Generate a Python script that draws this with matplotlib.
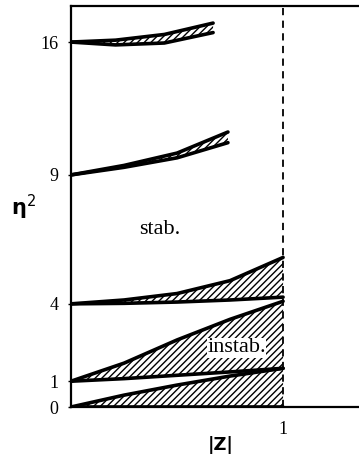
import numpy as np
import matplotlib
matplotlib.use("Agg")
import matplotlib.pyplot as plt

# band readings: |Z| positions and eta^2 edges (lower / upper)
x_low = [0.0, 0.25, 0.5, 0.75, 1.0]
band0_lo = [0.0, 0.0, 0.0, 0.0, 0.0]
band0_hi = [0.0, 0.46, 0.85, 1.2, 1.5]
band1_lo = [1.0, 1.1, 1.23, 1.36, 1.5]
band1_hi = [1.0, 1.7, 2.6, 3.4, 4.1]
band4_lo = [4.0, 4.02, 4.07, 4.15, 4.26]
band4_hi = [4.0, 4.15, 4.4, 4.9, 5.8]

x_9 = [0.0, 0.25, 0.5, 0.74]
band9_lo = [9.0, 9.4, 9.9, 10.7]
band9_hi = [9.0, 9.5, 10.15, 11.26]

x_16 = [0.0, 0.21, 0.44, 0.67]
band16_lo = [16.0, 15.85, 15.95, 16.5]
band16_hi = [16.0, 16.1, 16.4, 17.0]

yticks = [0, 1, 4, 9, 16]
xticks = [1]

plt.rcParams['font.family'] = ['Liberation Serif', 'DejaVu Sans']
plt.rcParams['hatch.linewidth'] = 1.0

# axis is squeezed above 9
k = 0.736
def fwd(y):
    y = np.asarray(y, dtype=float)
    return np.where(y <= 9, y, 9 + (y - 9) * k)
def inv(y):
    y = np.asarray(y, dtype=float)
    return np.where(y <= 9, y, 9 + (y - 9) / k)

fig = plt.figure(figsize=(3.59, 4.63), dpi=100)
ax = fig.add_axes([71 / 359, 56 / 463, 288 / 359, 401 / 463])
ax.set_yscale('function', functions=(fwd, inv))

bands = [
    (x_low, band0_lo, band0_hi),
    (x_low, band1_lo, band1_hi),
    (x_low, band4_lo, band4_hi),
    (x_9, band9_lo, band9_hi),
    (x_16, band16_lo, band16_hi),
]
for xs, lo, hi in bands:
    ax.fill_between(xs, lo, hi, facecolor='white', edgecolor='black',
                    hatch='/////', linewidth=0)
    ax.plot(xs, lo, color='black', lw=2.6, solid_capstyle='round')
    ax.plot(xs, hi, color='black', lw=2.6, solid_capstyle='round')

ax.axvline(1, color='black', lw=1.3, ls=(0, (4, 3)))

ax.set_xlim(0, 1.358)
ax.set_ylim(0, 17.9)
ax.set_yticks(yticks)
ax.set_yticklabels([str(t) for t in yticks], fontsize=13)
ax.set_xticks(xticks)
ax.set_xticklabels(['1'], fontsize=13)
ax.tick_params(axis='y', length=2, width=1, pad=7)
ax.tick_params(axis='x', length=0, pad=10)
ax.yaxis.set_minor_locator(plt.NullLocator())
ax.xaxis.set_minor_locator(plt.NullLocator())

for s in ['left', 'bottom', 'top']:
    ax.spines[s].set_linewidth(1.6)
ax.spines['right'].set_visible(False)

ax.text(0.42, 6.9, 'stab.', fontsize=16, ha='center', va='center')
ax.text(0.78, 2.3, 'instab.', fontsize=16, ha='center', va='center',
        bbox=dict(facecolor='white', edgecolor='none', pad=0.3))

fig.text(23 / 359, 1 - 207 / 463, 'η$^2$', fontsize=15, fontweight='bold',
         family='DejaVu Sans', ha='center', va='center')
fig.text(221 / 359, 1 - 445 / 463, '|Z|', fontsize=13, fontweight='bold',
         family='DejaVu Sans', ha='center', va='center')

fig.savefig('out.png', dpi=100)
